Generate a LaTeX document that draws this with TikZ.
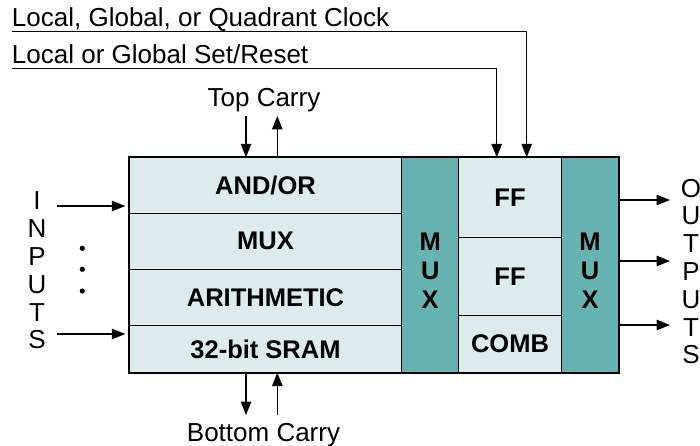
\documentclass[tikz,border=0pt]{standalone}
\usepackage{fontspec}
\setmainfont{Liberation Sans}
\usetikzlibrary{arrows.meta}
\definecolor{cellfill}{RGB}{220,235,235}
\definecolor{muxfill}{RGB}{102,179,178}
\tikzset{
  cell/.style={draw=black, line width=1.5pt, fill=cellfill, inner sep=0pt, outer sep=0pt,
    font=\bfseries\fontsize{25.5}{29}\selectfont, align=center},
  muxcell/.style={cell, fill=muxfill},
  sig/.style={line width=1.2pt, -{Triangle[length=13.5pt,width=10.5pt]}},
  lbl/.style={font=\fontsize{26}{27.8}\selectfont, inner sep=0pt, outer sep=0pt},
}
\begin{document}
\begin{tikzpicture}[x=1pt, y=-1pt]
\useasboundingbox (0,0) rectangle (700,446);

% logic column
\node[cell, minimum width=272.4pt, minimum height=56pt]   (andor) at (265.5,185.3) {AND/OR};
\node[cell, minimum width=272.4pt, minimum height=56pt]   (lmx)   at (265.5,241.3) {MUX};
\node[cell, minimum width=272.4pt, minimum height=56pt]   (arith) at (265.5,297.3) {ARITHMETIC};
\node[cell, minimum width=272.4pt, minimum height=47.4pt] (sram)  at (265.5,349.0) {32-bit SRAM};

% multiplexers and register column
\node[muxcell, minimum width=57pt, minimum height=215.4pt]   (lmux) at (430.2,265) {};
\node[font=\bfseries\fontsize{25.5}{29}\selectfont, align=center, inner sep=0pt] (lmuxt) at (430.2,270.5) {M\\U\\X};
\node[cell, minimum width=102.6pt, minimum height=80pt]   (ff1)  at (510,197.3) {FF};
\node[cell, minimum width=102.6pt, minimum height=78.4pt] (ff2)  at (510,276.5) {FF};
\node[cell, minimum width=102.6pt, minimum height=57pt]   (comb) at (510,344.2) {COMB};
\node[muxcell, minimum width=57.4pt, minimum height=215.4pt] (rmux) at (590,265) {};
\node[font=\bfseries\fontsize{25.5}{29}\selectfont, align=center, inner sep=0pt] (rmuxt) at (590,270.5) {M\\U\\X};

% outer frame
\draw[line width=2.2pt] (andor.north west) rectangle (rmux.south east);

% inputs
\node[lbl, align=center] (inlbl) at (37,270.5) {I\\N\\P\\U\\T\\S};
\coordinate (in1) at (57.3,206);
\coordinate (in2) at (57.3,334);
\draw[sig, shorten >=4pt] (in1) -- (in1 -| andor.west);
\draw[sig, shorten >=4pt] (in2) -- (in2 -| andor.west);
\fill (82.3,248.3) circle (2.6pt);
\fill (82.3,269.3) circle (2.6pt);
\fill (82.3,291.0) circle (2.6pt);

% outputs
\node[lbl, align=center] (outlbl) at (691,271.5) {O\\U\\T\\P\\U\\T\\S};
\coordinate (out1) at (670,200);
\coordinate (out2) at (670,261);
\coordinate (out3) at (670,325);
\draw[sig] (out1 -| rmux.east) -- (out1);
\draw[sig] (out2 -| rmux.east) -- (out2);
\draw[sig] (out3 -| rmux.east) -- (out3);

% clock and set/reset
\node[lbl, anchor=base west] (clk) at (12,26.7) {Local, Global, or Quadrant Clock};
\node[lbl, anchor=base west] (sr)  at (12,63.3) {Local or Global Set/Reset};
\coordinate (clkline) at (12,31.7);
\coordinate (srline)  at (12,68.3);
\draw[sig] (clkline) -| ([xshift=16.7pt]ff1.north);
\draw[sig] (srline)  -| ([xshift=-13.3pt]ff1.north);

% carry chain
\node[lbl, anchor=base] (top) at (264,106.5) {Top Carry};
\coordinate (tc1) at (246,116.5);
\coordinate (tc2) at (277.3,116);
\draw[sig] (tc1) -- (tc1 |- andor.north);
\draw[sig] (tc2 |- andor.north) -- (tc2);

\node[lbl, anchor=base] (bot) at (263.5,441) {Bottom Carry};
\coordinate (bc1) at (246,415);
\coordinate (bc2) at (277.3,415);
\draw[sig] (bc1 |- sram.south) -- (bc1);
\draw[sig] (bc2) -- (bc2 |- sram.south);
\end{tikzpicture}
\end{document}
